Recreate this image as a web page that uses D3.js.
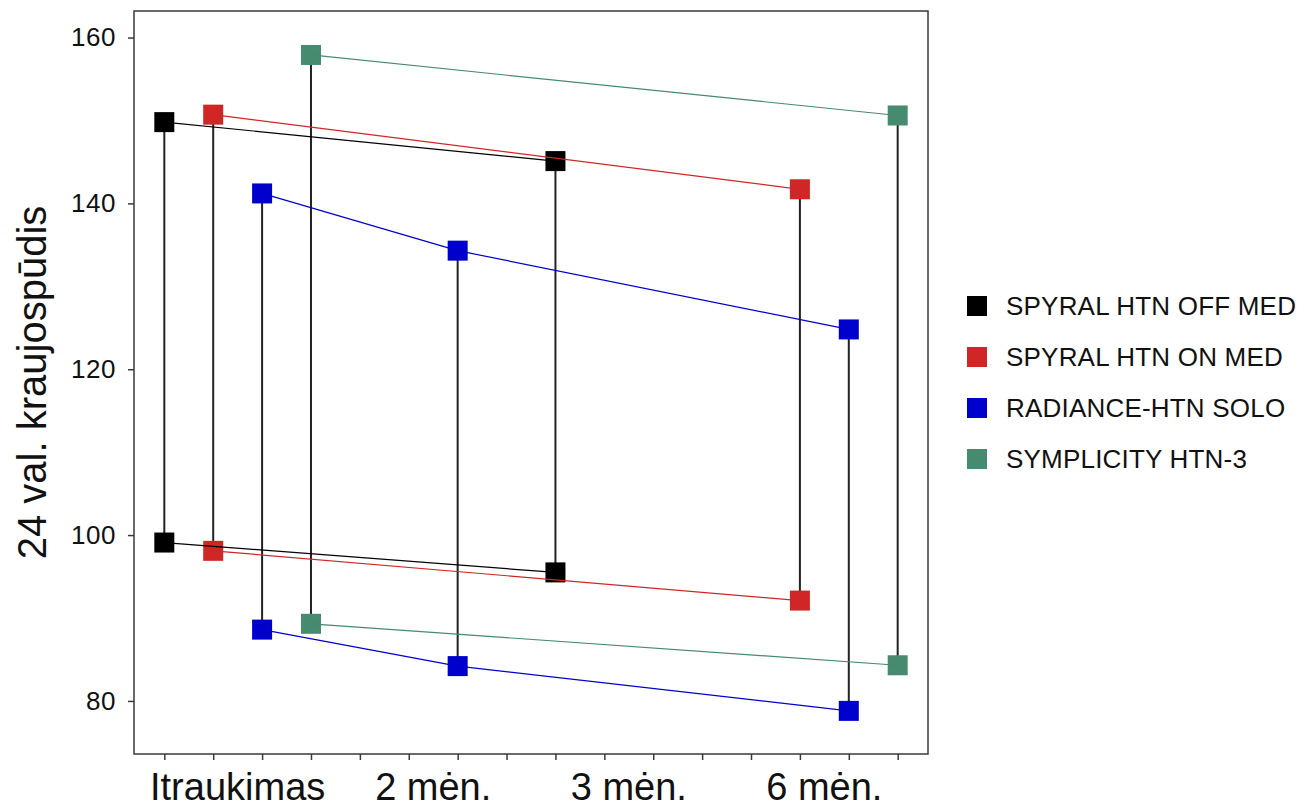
<!DOCTYPE html>
<html><head><meta charset="utf-8">
<script src="https://cdn.jsdelivr.net/npm/d3@7"></script>
<style>body{margin:0;background:#fff}svg{font-family:"Liberation Sans",Arial,sans-serif}</style>
</head><body><svg id="c" width="1316" height="808"></svg>
<script>
const categories = ["Itraukimas", "2 mėn.", "3 mėn.", "6 mėn."];
const seriesNames = ["SPYRAL HTN OFF MED", "SPYRAL HTN ON MED", "RADIANCE-HTN SOLO", "SYMPLICITY HTN-3"];
const seriesColors = ["#000000", "#d02626", "#0000cc", "#468a6f"];
const yTicks = [80, 100, 120, 140, 160];

const offMedTime = [0, 2];
const offMedSys = [149.8, 145.1];
const offMedDia = [99.1, 95.5];

const onMedTime = [0, 3];
const onMedSys = [150.7, 141.7];
const onMedDia = [98.1, 92.1];

const radianceTime = [0, 1, 3];
const radianceSys = [141.2, 134.3, 124.8];
const radianceDia = [88.6, 84.2, 78.8];

const symplicityTime = [0, 3];
const symplicitySys = [157.9, 150.6];
const symplicityDia = [89.3, 84.3];

const seriesTime = [offMedTime, onMedTime, radianceTime, symplicityTime];
const seriesSys = [offMedSys, onMedSys, radianceSys, symplicitySys];
const seriesDia = [offMedDia, onMedDia, radianceDia, symplicityDia];

const svg = d3.select("#c");
const L = 134, R = 928, T = 11, B = 754;
const x = d3.scaleLinear().domain([-0.62, 15.62]).range([L, R]);
const y = d3.scaleLinear().domain([73.6, 163.2]).range([B, T]);
const pos = (s, t) => t * 4 + s;

// frame
svg.append("rect").attr("x", L).attr("y", T).attr("width", R - L).attr("height", B - T)
  .attr("fill", "none").attr("stroke", "#3a3a3a").attr("stroke-width", 1.5);

// y axis
const yAxis = svg.append("g").attr("transform", `translate(${L},0)`)
  .call(d3.axisLeft(y).tickValues(yTicks).tickSize(6).tickPadding(12));
yAxis.select(".domain").remove();
yAxis.selectAll("line").attr("stroke", "#3a3a3a").attr("stroke-width", 1.5);
yAxis.selectAll("text").attr("font-size", 26).attr("fill", "#111")
  .style("letter-spacing", "0.5px")
  .style("font-family", "'Liberation Sans',Arial,sans-serif");

// x axis ticks
const xAxis = svg.append("g").attr("transform", `translate(0,${B})`)
  .call(d3.axisBottom(x).tickValues(d3.range(16)).tickSize(6).tickFormat(""));
xAxis.select(".domain").remove();
xAxis.selectAll("line").attr("stroke", "#3a3a3a").attr("stroke-width", 1.5);

// x category labels
svg.append("g").selectAll("text").data(categories).join("text")
  .attr("x", (d, i) => x(i * 4 + 1.5)).attr("y", 800)
  .attr("text-anchor", "middle").attr("font-size", 38).attr("fill", "#111")
  .text(d => d);

// y label
svg.append("text").attr("transform", `translate(46,${(T + B) / 2}) rotate(-90)`)
  .attr("text-anchor", "middle").attr("font-size", 40).attr("fill", "#111")
  .text("24 val. kraujospūdis");

// vertical range lines
const vert = [];
seriesNames.forEach((n, s) => {
  seriesTime[s].forEach((t, k) => vert.push({ s, t, hi: seriesSys[s][k], lo: seriesDia[s][k] }));
});
svg.append("g").selectAll("line").data(vert).join("line")
  .attr("x1", d => x(pos(d.s, d.t))).attr("x2", d => x(pos(d.s, d.t)))
  .attr("y1", d => y(d.hi)).attr("y2", d => y(d.lo))
  .attr("stroke", "#222").attr("stroke-width", 2);

// squares
const sq = 20;
svg.append("g").selectAll("rect").data(vert.flatMap(d => [{ ...d, v: d.hi }, { ...d, v: d.lo }])).join("rect")
  .attr("x", d => x(pos(d.s, d.t)) - sq / 2).attr("y", d => y(d.v) - sq / 2)
  .attr("width", sq).attr("height", sq).attr("fill", d => seriesColors[d.s]);

// connecting lines
const line = d3.line().x(d => x(d[0])).y(d => y(d[1]));
seriesNames.forEach((n, s) => {
  const tt = seriesTime[s];
  [seriesSys[s], seriesDia[s]].forEach(vals => {
    svg.append("path").attr("d", line(tt.map((t, k) => [pos(s, t), vals[k]])))
      .attr("fill", "none").attr("stroke", seriesColors[s]).attr("stroke-width", 1.2);
  });
});

// legend
const lg = svg.append("g").selectAll("g").data(seriesNames).join("g")
  .attr("transform", (d, i) => `translate(967,${306 + i * 51})`);
lg.append("rect").attr("x", 0).attr("y", -10).attr("width", 20).attr("height", 20)
  .attr("fill", (d, i) => seriesColors[i]);
lg.append("text").attr("x", 39).attr("y", 0).attr("dy", "0.36em")
  .attr("font-size", 26).attr("fill", "#111").style("letter-spacing", "0.2px").text(d => d);
</script></body></html>
